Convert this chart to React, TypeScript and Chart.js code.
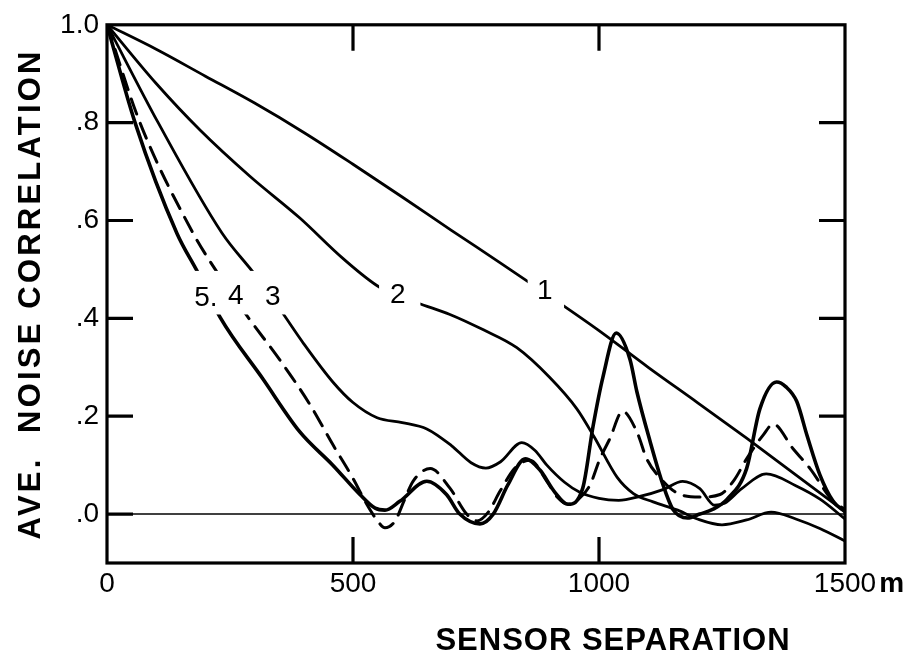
import { useEffect, useRef } from 'react';
import { Chart, registerables } from 'chart.js';

Chart.register(...registerables);

// ---- axes ----
const xTickValues = [0, 500, 1000, 1500];
const xTickLabels = ['0', '500', '1000', '1500'];
const xUnit = 'm';
const yTickValues = [0, 0.2, 0.4, 0.6, 0.8, 1.0];
const yTickLabels = ['.0', '.2', '.4', '.6', '.8', '1.0'];
const innerTicksY = [0, 0.2, 0.4, 0.6, 0.8];
const innerTicksX = [500, 1000];
const xTitle = 'SENSOR SEPARATION';
const yTitle = 'AVE.  NOISE CORRELATION';

// ---- curve 1 ----
const curve1X = [0, 100, 200, 300, 400, 500, 600, 700, 800, 900, 1000, 1100, 1200, 1300, 1400, 1500];
const curve1Y = [1.0, 0.95, 0.895, 0.84, 0.78, 0.715, 0.648, 0.58, 0.513, 0.445, 0.375, 0.3, 0.228, 0.155, 0.08, 0.005];

// ---- curve 2 ----
const curve2X = [0, 100, 189, 291, 392, 480, 555, 630, 697, 764, 833, 900, 955, 990, 1037, 1070, 1110, 1160, 1200, 1250, 1300, 1350, 1400, 1450, 1500];
const curve2Y = [1.0, 0.88, 0.785, 0.69, 0.605, 0.522, 0.463, 0.432, 0.408, 0.377, 0.34, 0.279, 0.215, 0.158, 0.075, 0.042, 0.025, 0.008, -0.01, -0.022, -0.012, 0.004, -0.01, -0.03, -0.055];

// ---- curve 3 ----
const curve3X = [0, 104, 234, 301, 352, 400, 459, 500, 549, 600, 650, 700, 740, 770, 800, 843, 870, 894, 930, 960, 1000, 1040, 1083, 1130, 1170, 1205, 1235, 1255, 1290, 1340, 1400, 1450, 1500];
const curve3Y = [1.0, 0.8, 0.574, 0.489, 0.418, 0.348, 0.27, 0.228, 0.197, 0.187, 0.174, 0.14, 0.105, 0.094, 0.107, 0.146, 0.13, 0.1, 0.065, 0.045, 0.032, 0.028, 0.036, 0.05, 0.067, 0.052, 0.018, 0.022, 0.052, 0.082, 0.058, 0.03, -0.01];

// ---- curve 4 (dashed) ----
const curve4X = [0, 67, 175, 220, 284, 352, 413, 459, 500, 528, 550, 565, 585, 605, 622, 657, 697, 731, 752, 775, 799, 830, 860, 894, 915, 937, 960, 982, 1002, 1022, 1048, 1077, 1097, 1124, 1165, 1205, 1246, 1275, 1300, 1334, 1354, 1394, 1429, 1476, 1500];
const curve4Y = [1.0, 0.8, 0.574, 0.5, 0.406, 0.314, 0.223, 0.142, 0.073, 0.02, -0.014, -0.028, -0.015, 0.03, 0.067, 0.093, 0.053, 0.0, -0.014, 0.004, 0.047, 0.095, 0.11, 0.067, 0.035, 0.02, 0.032, 0.06, 0.113, 0.154, 0.21, 0.168, 0.113, 0.074, 0.04, 0.035, 0.04, 0.07, 0.113, 0.162, 0.184, 0.134, 0.093, 0.026, 0.01];

// ---- curve 5 (heavy) ----
const curve5X = [0, 57, 142, 185, 230, 317, 392, 459, 514, 545, 565, 595, 650, 690, 717, 758, 785, 815, 850, 880, 910, 937, 967, 988, 1008, 1035, 1063, 1077, 1104, 1130, 1150, 1180, 1205, 1232, 1260, 1300, 1327, 1361, 1380, 1402, 1423, 1449, 1476, 1500];
const curve5Y = [1.0, 0.8, 0.574, 0.493, 0.402, 0.276, 0.168, 0.1, 0.04, 0.012, 0.008, 0.026, 0.067, 0.04, 0.0, -0.02, 0.0, 0.06, 0.113, 0.09, 0.045, 0.02, 0.053, 0.18, 0.28, 0.37, 0.316, 0.25, 0.148, 0.06, 0.01, -0.008, 0.0, 0.01, 0.03, 0.093, 0.215, 0.27, 0.26, 0.23, 0.16, 0.08, 0.026, 0.005];

// ---- curve number labels (data coords) and the gaps cut into the curves ----
const labelTexts = ['5.', '4', '3', '2', '1'];
const labelX = [201, 262, 337, 591, 890];
const labelY = [0.442, 0.446, 0.444, 0.448, 0.456];
const gapX0 = [169, 553, 855];
const gapX1 = [376, 637, 929];
const gapY0 = [0.408, 0.42, 0.42];
const gapY1 = [0.497, 0.47, 0.49];

const FONT = '"Liberation Sans", Arial, Helvetica, sans-serif';
const TICK_SIZE = 28;
const X_PAD = 4;

function pts(xs: number[], ys: number[]) {
  return xs.map((x, i) => ({ x, y: ys[i] }));
}

export default function App() {
  const ref = useRef<HTMLCanvasElement>(null);

  useEffect(() => {
    if (!ref.current) return;

    const overlay = {
      id: 'overlay',
      beforeDatasetsDraw(chart: any) {
        const { ctx, chartArea: a, scales } = chart;
        const y = scales.y;
        const y0 = y.getPixelForValue(0);
        ctx.save();
        ctx.strokeStyle = '#000';
        ctx.lineWidth = 1.6;
        ctx.beginPath();
        ctx.moveTo(a.left, y0);
        ctx.lineTo(a.right, y0);
        ctx.stroke();
        ctx.restore();
      },
      afterDatasetsDraw(chart: any) {
        const { ctx, chartArea: a, scales } = chart;
        const x = scales.x;
        const y = scales.y;
        ctx.save();

        // gaps for labels
        ctx.fillStyle = '#fff';
        for (let i = 0; i < gapX0.length; i++) {
          const l = x.getPixelForValue(gapX0[i]);
          const r = x.getPixelForValue(gapX1[i]);
          const t = y.getPixelForValue(gapY1[i]);
          const b = y.getPixelForValue(gapY0[i]);
          ctx.fillRect(l, t, r - l, b - t);
        }
        // labels
        ctx.fillStyle = '#000';
        ctx.font = `28px ${FONT}`;
        ctx.textAlign = 'center';
        ctx.textBaseline = 'middle';
        for (let i = 0; i < labelTexts.length; i++) {
          ctx.fillText(labelTexts[i], x.getPixelForValue(labelX[i]), y.getPixelForValue(labelY[i]));
        }

        // frame
        ctx.strokeStyle = '#000';
        ctx.lineWidth = 3.2;
        ctx.strokeRect(a.left, a.top, a.right - a.left, a.bottom - a.top);

        // inward ticks
        const TL = 26;
        ctx.lineWidth = 3.2;
        ctx.beginPath();
        for (const v of innerTicksY) {
          const py = y.getPixelForValue(v);
          ctx.moveTo(a.left, py);
          ctx.lineTo(a.left + TL, py);
          if (v !== 0) {
            ctx.moveTo(a.right, py);
            ctx.lineTo(a.right - TL, py);
          }
        }
        for (const v of innerTicksX) {
          const px = x.getPixelForValue(v);
          ctx.moveTo(px, a.top);
          ctx.lineTo(px, a.top + TL);
          ctx.moveTo(px, a.bottom);
          ctx.lineTo(px, a.bottom - TL);
        }
        ctx.stroke();

        // unit after last x tick label
        ctx.font = `${TICK_SIZE}px ${FONT}`;
        const lastW = ctx.measureText(xTickLabels[xTickLabels.length - 1]).width;
        ctx.font = `bold ${TICK_SIZE}px ${FONT}`;
        ctx.textAlign = 'left';
        ctx.textBaseline = 'middle';
        const labelMid = x.top + X_PAD + (TICK_SIZE * 1.2) / 2;
        ctx.fillText(xUnit, x.getPixelForValue(1500) + lastW / 2 + 3, labelMid);

        // axis titles
        ctx.font = `bold 31px ${FONT}`;
        (ctx as any).letterSpacing = '1px';
        ctx.textAlign = 'center';
        ctx.textBaseline = 'alphabetic';
        ctx.fillText(xTitle, 613, 650);

        (ctx as any).letterSpacing = '3.2px';
        ctx.translate(31, (a.top + a.bottom) / 2);
        ctx.rotate(-Math.PI / 2);
        ctx.textBaseline = 'middle';
        ctx.fillText(yTitle, 0, 0);
        ctx.restore();
      },
    };

    const line = (data: any, width: number, dash: number[] = []) => ({
      data,
      borderColor: '#000',
      borderWidth: width,
      borderDash: dash,
      pointRadius: 0,
      fill: false,
      cubicInterpolationMode: 'monotone' as const,
      borderCapStyle: 'round' as const,
    });

    const chart = new Chart(ref.current, {
      type: 'line',
      data: {
        datasets: [
          line(pts(curve1X, curve1Y), 2.8),
          line(pts(curve2X, curve2Y), 2.8),
          line(pts(curve3X, curve3Y), 2.8),
          line(pts(curve4X, curve4Y), 3.0, [16, 10]),
          line(pts(curve5X, curve5Y), 3.6),
        ],
      },
      options: {
        animation: false,
        responsive: false,
        devicePixelRatio: 1,
        layout: { padding: { left: 0, right: 63, top: 19, bottom: 0 } },
        plugins: { legend: { display: false }, tooltip: { enabled: false } },
        scales: {
          x: {
            type: 'linear',
            min: 0,
            max: 1500,
            grid: { display: false, drawTicks: false },
            border: { display: false },
            afterBuildTicks: (s: any) => {
              s.ticks = xTickValues.map((v) => ({ value: v }));
            },
            afterFit: (s: any) => {
              s.height = 95;
            },
            ticks: {
              autoSkip: false,
              maxRotation: 0,
              padding: X_PAD,
              color: '#000',
              font: { family: FONT, size: TICK_SIZE, lineHeight: 1.2 },
              callback: (v: any) => xTickLabels[xTickValues.indexOf(Number(v))] ?? '',
            },
          },
          y: {
            type: 'linear',
            min: -0.1,
            max: 1.0,
            grid: { display: false, drawTicks: false },
            border: { display: false },
            afterBuildTicks: (s: any) => {
              s.ticks = yTickValues.map((v) => ({ value: v }));
            },
            afterFit: (s: any) => {
              s.width = 107;
            },
            ticks: {
              autoSkip: false,
              padding: 8,
              color: '#000',
              font: { family: FONT, size: TICK_SIZE },
              callback: (v: any) => {
                const i = yTickValues.findIndex((t) => Math.abs(t - Number(v)) < 1e-9);
                return i >= 0 ? yTickLabels[i] : '';
              },
            },
          },
        },
      },
      plugins: [overlay],
    });

    return () => chart.destroy();
  }, []);

  return (
    <div style={{ position: 'fixed', left: 0, top: 0, width: 908, height: 658, background: '#fff' }}>
      <canvas ref={ref} width={908} height={658} style={{ display: 'block', width: 908, height: 658 }} />
    </div>
  );
}
